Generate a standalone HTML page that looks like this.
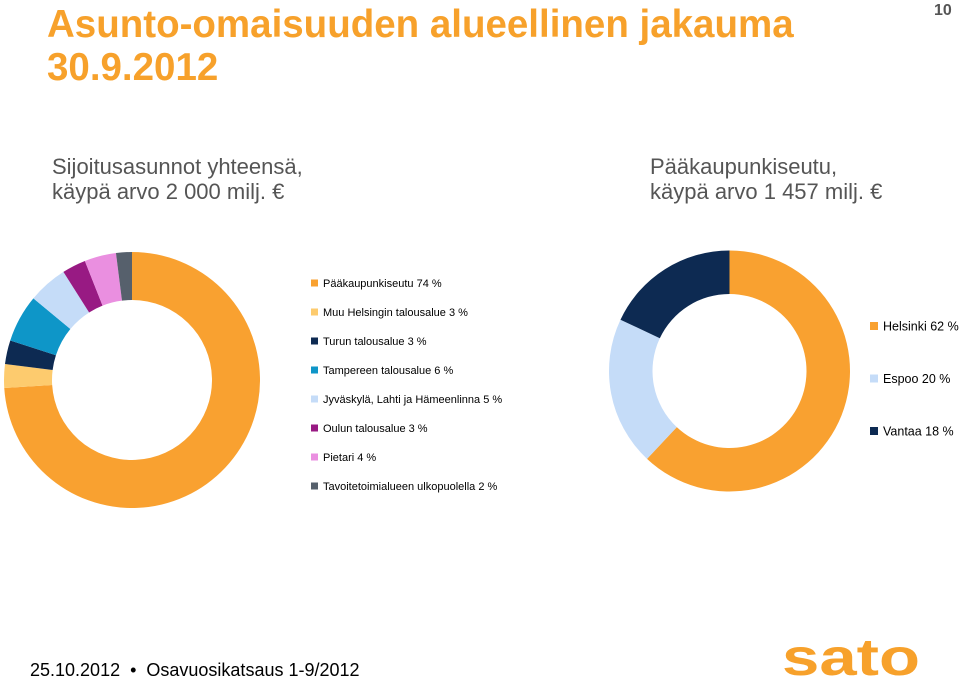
<!DOCTYPE html>
<html><head><meta charset="utf-8"><style>
body{margin:0;width:960px;height:681px;overflow:hidden;background:#fff;font-family:"Liberation Sans",Arial,sans-serif;position:relative}
.a{position:absolute;white-space:nowrap}
</style></head><body>
<div class="a" style="left:47px;top:3px;font-size:38.5px;font-weight:bold;line-height:43px;color:#F7A12B">Asunto-omaisuuden alueellinen jakauma<br>30.9.2012</div>
<div class="a" style="left:934px;top:2px;font-size:16px;font-weight:bold;color:#555">10</div>
<div class="a" style="left:52px;top:154px;font-size:22px;line-height:25px;color:#555">Sijoitusasunnot yhteensä,<br>käypä arvo 2 000 milj. €</div>
<div class="a" style="left:650px;top:154px;font-size:22px;line-height:25px;color:#555">Pääkaupunkiseutu,<br>käypä arvo 1 457 milj. €</div>
<svg id="chart" width="960" height="681" style="position:absolute;left:0;top:0" font-family="Liberation Sans, sans-serif"></svg>
<div class="a" style="left:30px;top:660px;font-size:18px;color:#000">25.10.2012 &nbsp;•&nbsp; Osavuosikatsaus 1-9/2012</div>
<svg class="a" style="left:780px;top:630px" width="150" height="50"><text x="2" y="45" font-size="52" font-weight="bold" fill="#F7A12B" font-family="Liberation Sans, sans-serif" textLength="138" lengthAdjust="spacingAndGlyphs">sato</text></svg>
<script>
const leftLabels=["Pääkaupunkiseutu 74 %","Muu Helsingin talousalue 3 %","Turun talousalue 3 %","Tampereen talousalue 6 %","Jyväskylä, Lahti ja Hämeenlinna 5 %","Oulun talousalue 3 %","Pietari 4 %","Tavoitetoimialueen ulkopuolella 2 %"];
const leftValues=[74,3,3,6,5,3,4,2];
const leftColors=["#F9A130","#FDCB6E","#0D2A52","#0E96C8","#C5DCF8","#981A83","#EA8FE0","#56606C"];
const rightLabels=["Helsinki 62 %","Espoo 20 %","Vantaa 18 %"];
const rightValues=[62,20,18];
const rightColors=["#F9A130","#C5DCF8","#0D2A52"];
const svg=document.getElementById('chart');
const NS="http://www.w3.org/2000/svg";
function donut(vals,cols,cx,cy,R,r,prefix){
  const tot=vals.reduce((a,b)=>a+b,0);let a0=0;
  vals.forEach((v,i)=>{
    const a1=a0+v/tot*2*Math.PI;
    const p=(a,rad)=>[cx+rad*Math.sin(a),cy-rad*Math.cos(a)];
    const [x1,y1]=p(a0,R),[x2,y2]=p(a1,R),[x3,y3]=p(a1,r),[x4,y4]=p(a0,r);
    const lg=(a1-a0)>Math.PI?1:0;
    const path=document.createElementNS(NS,'path');
    path.setAttribute('d',`M${x1},${y1}A${R},${R} 0 ${lg} 1 ${x2},${y2}L${x3},${y3}A${r},${r} 0 ${lg} 0 ${x4},${y4}Z`);
    path.setAttribute('fill',cols[i]);
    
    
    svg.appendChild(path);a0=a1;
  });
}
function legend(labels,cols,x,y0,dy,fs,sq,prefix){
  labels.forEach((t,i)=>{
    const y=y0+i*dy;
    const g=document.createElementNS(NS,'g');
    
    
    const rc=document.createElementNS(NS,'rect');
    rc.setAttribute('x',x);rc.setAttribute('y',y-sq/2);rc.setAttribute('width',sq);rc.setAttribute('height',sq);rc.setAttribute('fill',cols[i]);
    const tx=document.createElementNS(NS,'text');
    tx.setAttribute('x',x+sq+5);tx.setAttribute('y',y+fs*0.36);tx.setAttribute('font-size',fs);tx.setAttribute('fill','#000');
    tx.textContent=t;
    g.appendChild(rc);g.appendChild(tx);svg.appendChild(g);
  });
}
donut(leftValues,leftColors,132,380,128,80,'left');
donut(rightValues,rightColors,729.5,371,120.5,77,'right');
legend(leftLabels,leftColors,311,283,29,11,7,'left');
legend(rightLabels,rightColors,870,326,52.5,12.5,8,'right');
</script>
</body></html>
